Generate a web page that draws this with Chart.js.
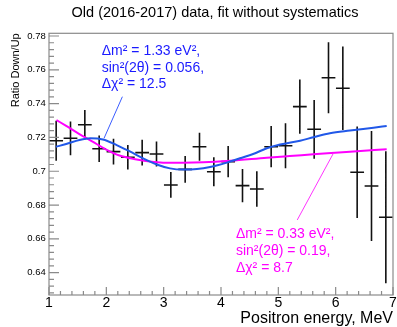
<!DOCTYPE html>
<html><head><meta charset="utf-8">
<script src="https://cdn.jsdelivr.net/npm/chart.js@4/dist/chart.umd.min.js"></script>
<style>html,body{margin:0;padding:0;background:#fff;overflow:hidden}canvas{display:block}</style>
</head><body>
<canvas id="c" width="397" height="327"></canvas>
<script>
// ---- data ----
const energies = [1.125, 1.375, 1.625, 1.875, 2.125, 2.375, 2.625, 2.875, 3.125, 3.375, 3.625, 3.875,
                  4.125, 4.375, 4.625, 4.875, 5.125, 5.375, 5.625, 5.875, 6.125, 6.375, 6.625, 6.875];
const ratio = [0.718, 0.7195, 0.7275, 0.7133, 0.7116, 0.7083, 0.711, 0.7102, 0.6919, 0.7011, 0.7145, 0.6997,
               0.7057, 0.6915, 0.6895, 0.7145, 0.7151, 0.7382, 0.7248, 0.7553, 0.7491, 0.6994, 0.6913, 0.6728];
const ratioErr = [0.0118, 0.0100, 0.0087, 0.0079, 0.0076, 0.0072, 0.0076, 0.0074, 0.0076, 0.0079, 0.0083, 0.0086,
                  0.0092, 0.0099, 0.0105, 0.0122, 0.0133, 0.0160, 0.0174, 0.0210, 0.0247, 0.0271, 0.0325, 0.0390];
const binHalfWidth = 0.12;

const fitBlueE = [1.12, 1.3, 1.53, 1.72, 1.94, 2.18, 2.41, 2.65, 2.88, 3.11, 3.34, 3.58, 3.81, 4.1, 4.33, 4.56, 4.8, 5.03, 5.38, 5.61, 5.9, 6.25, 6.66, 6.89];
const fitBlueR = [0.7145, 0.7161, 0.7185, 0.7195, 0.7188, 0.7155, 0.7117, 0.7075, 0.704, 0.7017, 0.701, 0.7013, 0.7025, 0.7051, 0.7077, 0.7102, 0.7136, 0.7158, 0.7181, 0.7201, 0.7225, 0.7241, 0.7258, 0.7268];
const fitMagE = [1.13, 1.3, 1.53, 1.76, 1.99, 2.23, 2.53, 2.76, 2.99, 3.34, 3.69, 4.16, 4.8, 5.2, 5.61, 6.25, 6.89];
const fitMagR = [0.7303, 0.7268, 0.722, 0.7175, 0.713, 0.7093, 0.707, 0.7057, 0.7051, 0.7051, 0.7053, 0.7062, 0.708, 0.709, 0.710, 0.7116, 0.713];

const xTickLabels = [1, 2, 3, 4, 5, 6, 7];
const yTickLabels = [0.64, 0.66, 0.68, 0.7, 0.72, 0.74, 0.76, 0.78];

const titleText = "Old (2016-2017) data, fit without systematics";
const xTitle = "Positron energy, MeV";
const yTitle = "Ratio Down/Up";
const blueLabel = ["\u0394m\u00B2 = 1.33 eV\u00B2,", "sin\u00B2(2\u03B8) = 0.056,", "\u0394\u03C7\u00B2 = 12.5"];
const magLabel = ["\u0394m\u00B2 = 0.33 eV\u00B2,", "sin\u00B2(2\u03B8) = 0.19,", "\u0394\u03C7\u00B2 = 8.7"];

// ---- annotation placement (data units) ----
const blueTextAt = {x: 1.92, y: 0.7688};
const magTextAt = {x: 4.26, y: 0.6603};
const bluePointer = [{x: 2.28, y: 0.7441}, {x: 1.96, y: 0.7195}];
const magPointer = [{x: 5.33, y: 0.6712}, {x: 5.96, y: 0.7106}];

const BLUE_LINE = '#2158e8', BLUE_TEXT = '#1a1aff', MAG = '#ff00ff';
const FONT = "'Liberation Sans', Arial, sans-serif";

// error bar segments built from data arrays
const errSegs = [];
energies.forEach((e, i) => {
  errSegs.push({x: e, y: ratio[i] - ratioErr[i]}, {x: e, y: ratio[i] + ratioErr[i]}, {x: e, y: null});
  errSegs.push({x: e - binHalfWidth, y: ratio[i]}, {x: e + binHalfWidth, y: ratio[i]}, {x: e, y: null});
});

const frameTicks = {
  id: 'frameTicks',
  afterDatasetsDraw(chart) {
    const {ctx, chartArea: a, scales: {x, y}} = chart;
    ctx.save();
    ctx.strokeStyle = '#8a8a8a';
    ctx.lineWidth = 1.2;
    ctx.strokeRect(a.left, a.top, a.right - a.left, a.bottom - a.top);
    ctx.beginPath();
    // x ticks (inward, from bottom)
    for (let v = 1; v <= 7.0001; v += 0.2) {
      const major = Math.abs(v - Math.round(v)) < 1e-6;
      const px = x.getPixelForValue(v);
      ctx.moveTo(px, a.bottom); ctx.lineTo(px, a.bottom - (major ? 8 : 4));
    }
    // y ticks (inward, from left)
    for (let k = 0; k <= 40; k++) {
      const v = 0.628 + k * 0.004;
      if (v > y.max) break;
      const major = Math.abs(v / 0.02 - Math.round(v / 0.02)) < 1e-4;
      const py = y.getPixelForValue(v);
      ctx.moveTo(a.left, py); ctx.lineTo(a.left + (major ? 10 : 5), py);
    }
    ctx.stroke();

    // title
    ctx.fillStyle = '#000';
    ctx.font = '14.5px ' + FONT;
    ctx.textAlign = 'center';
    ctx.textBaseline = 'middle';
    ctx.fillText(titleText, 215, 13);

    // annotations
    ctx.textAlign = 'left';
    ctx.textBaseline = 'alphabetic';
    ctx.font = '14px ' + FONT;
    const drawLabel = (lines, at, color) => {
      ctx.fillStyle = color;
      const px = x.getPixelForValue(at.x), py = y.getPixelForValue(at.y);
      lines.forEach((t, i) => ctx.fillText(t, px, py + i * 16.6));
    };
    drawLabel(blueLabel, blueTextAt, BLUE_TEXT);
    drawLabel(magLabel, magTextAt, MAG);
    ctx.restore();
  }
};

new Chart(document.getElementById('c'), {
  type: 'scatter',
  data: {
    datasets: [
      {data: fitBlueE.map((e, i) => ({x: e, y: fitBlueR[i]})), showLine: true, borderColor: BLUE_LINE, borderWidth: 2, pointRadius: 0, cubicInterpolationMode: 'monotone', order: 1},
      {data: fitMagE.map((e, i) => ({x: e, y: fitMagR[i]})), showLine: true, borderColor: MAG, borderWidth: 2, pointRadius: 0, cubicInterpolationMode: 'monotone', order: 2},
      {data: errSegs, showLine: true, spanGaps: false, borderColor: '#111', borderWidth: 1.6, pointRadius: 0, order: 3},
      {data: bluePointer, showLine: true, borderColor: '#3a5cff', borderWidth: 1, pointRadius: 0, order: 0},
      {data: magPointer, showLine: true, borderColor: '#ff33ff', borderWidth: 1, pointRadius: 0, order: 0}
    ]
  },
  options: {
    responsive: false,
    animation: false,
    devicePixelRatio: 1,
    events: [],
    layout: {padding: {top: 33.3, right: 4, left: 0, bottom: 0}},
    plugins: {legend: {display: false}, tooltip: {enabled: false}, title: {display: false}},
    scales: {
      x: {
        type: 'linear', min: 1, max: 7,
        grid: {display: false, drawTicks: false, tickLength: 0},
        border: {display: false},
        afterBuildTicks: s => { s.ticks = xTickLabels.map(v => ({value: v})); },
        afterFit: s => { s.height = 32; },
        ticks: {color: '#000', padding: 0, font: {family: FONT, size: 14, lineHeight: 1.2}, maxRotation: 0, autoSkip: false},
        title: {display: true, text: xTitle, align: 'end', color: '#000', padding: 0, font: {family: FONT, size: 16, lineHeight: 1}}
      },
      y: {
        type: 'linear', min: 0.6268, max: 0.7816,
        grid: {display: false, drawTicks: false, tickLength: 0},
        border: {display: false},
        afterBuildTicks: s => { s.ticks = yTickLabels.map(v => ({value: v})); },
        afterFit: s => { s.width = 49; },
        ticks: {color: '#000', padding: 3.3, font: {family: FONT, size: 9.5}, autoSkip: false,
                callback: v => String(+v.toFixed(2))},
        title: {display: true, text: yTitle, align: 'end', color: '#000', padding: {top: 9, bottom: 0}, font: {family: FONT, size: 11, lineHeight: 1.2}}
      }
    }
  },
  plugins: [frameTicks]
});
</script>
</body></html>
